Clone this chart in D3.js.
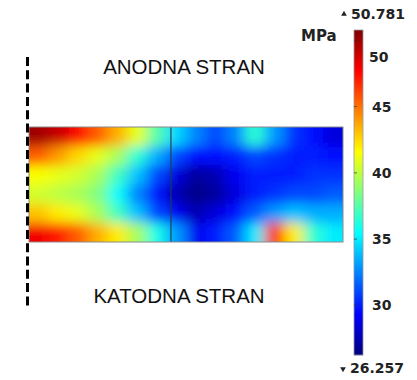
<!DOCTYPE html>
<html lang="sl">
<head>
<meta charset="UTF-8">
<title>Napetost - anodna / katodna stran</title>
<script src="https://d3js.org/d3.v7.min.js"></script>
<style>
    body { margin: 0; padding: 0; background: #fff; }
    svg { display: block; }
    .side-label { font-family: "Liberation Sans", Arial, sans-serif; font-size: 20.5px; fill: #111; text-anchor: middle; }
    .bar-text { font-family: "DejaVu Sans", Verdana, sans-serif; font-weight: bold; font-size: 14px; fill: #222; }
</style>
</head>
<body>
<svg width="417" height="380"></svg>
<script>
// stress field (MPa), rows top -> bottom, columns left -> right
const stress = [
    [50.0, 49.0, 47.5, 45.5, 43.5, 41.0, 37.5, 34.5, 32.5, 31.0, 32.5, 36.5, 33.0, 30.5, 29.5, 28.5],
    [45.5, 44.0, 42.5, 41.0, 39.5, 36.5, 33.5, 31.0, 29.5, 29.5, 30.0, 31.0, 30.5, 30.0, 30.0, 29.5],
    [41.5, 41.0, 40.5, 39.5, 37.0, 34.0, 31.0, 28.5, 27.0, 27.5, 29.0, 30.0, 30.0, 30.0, 30.5, 30.5],
    [40.5, 40.0, 39.5, 38.5, 35.5, 32.5, 29.5, 27.5, 26.5, 27.0, 28.5, 30.0, 30.5, 31.0, 31.0, 31.5],
    [43.0, 42.0, 41.0, 39.5, 37.0, 34.0, 31.0, 29.0, 27.5, 28.5, 29.5, 31.5, 33.0, 34.0, 33.5, 33.5],
    [48.0, 47.0, 45.5, 43.5, 42.0, 39.5, 36.0, 33.0, 29.0, 30.0, 31.5, 35.0, 47.0, 42.0, 36.5, 35.0]
];
const stressMin = 26.257;
const stressMax = 50.781;
const barTicks = [30, 35, 40, 45, 50];
const unit = "MPa";
const topLabel = "ANODNA STRAN";
const bottomLabel = "KATODNA STRAN";
const interfaceAt = 0.452;   // position of the inner boundary, fraction of length

const svg = d3.select("svg");

// rainbow (jet-like) colour map
const jetStops = [0, 0.125, 0.375, 0.625, 0.875, 1];
const jetColors = ["#00007f", "#0000ff", "#00ffff", "#ffff00", "#ff0000", "#7f0000"];
const color = d3.scaleLinear()
    .domain(jetStops.map(t => stressMin + t * (stressMax - stressMin)))
    .range(jetColors)
    .interpolate(d3.interpolateRgb)
    .clamp(true);

// ---- field ----
const fx0 = 29, fx1 = 343, fy0 = 127, fy1 = 242;
const nCols = stress[0].length, nRows = stress.length;
const xBand = d3.scaleBand().domain(d3.range(nCols)).range([fx0, fx1]);
const yBand = d3.scaleBand().domain(d3.range(nRows)).range([fy0, fy1]);
const pad = 25;

const defs = svg.append("defs");
defs.append("clipPath").attr("id", "field-clip")
    .append("rect")
    .attr("x", fx0).attr("y", fy0)
    .attr("width", fx1 - fx0).attr("height", fy1 - fy0);

defs.append("filter").attr("id", "smooth")
    .attr("filterUnits", "userSpaceOnUse")
    .attr("x", fx0 - 40).attr("y", fy0 - 40)
    .attr("width", fx1 - fx0 + 80).attr("height", fy1 - fy0 + 80)
    .append("feGaussianBlur")
    .attr("stdDeviation", "7 6");

const cells = [];
stress.forEach((row, r) => row.forEach((v, c) => cells.push({ r, c, v })));

svg.append("g")
    .attr("clip-path", "url(#field-clip)")
    .append("g")
    .attr("filter", "url(#smooth)")
    .selectAll("rect")
    .data(cells)
    .enter()
    .append("rect")
    .attr("x", d => xBand(d.c) - (d.c === 0 ? pad : 0))
    .attr("y", d => yBand(d.r) - (d.r === 0 ? pad : 0))
    .attr("width", d => xBand.bandwidth() + 0.6 + (d.c === 0 || d.c === nCols - 1 ? pad : 0))
    .attr("height", d => yBand.bandwidth() + 0.6 + (d.r === 0 || d.r === nRows - 1 ? pad : 0))
    .attr("fill", d => color(d.v));

const xLen = d3.scaleLinear().domain([0, 1]).range([fx0, fx1]);
svg.append("line")
    .attr("x1", xLen(interfaceAt)).attr("x2", xLen(interfaceAt))
    .attr("y1", fy0).attr("y2", fy1)
    .attr("stroke", "#1d3f4f").attr("stroke-opacity", 0.75)
    .attr("stroke-width", 1.5);

svg.append("rect")
    .attr("x", fx0).attr("y", fy0)
    .attr("width", fx1 - fx0).attr("height", fy1 - fy0)
    .attr("fill", "none")
    .attr("stroke", "#8a8a8a")
    .attr("stroke-width", 1);

// symmetry line
svg.append("line")
    .attr("x1", 27.5).attr("x2", 27.5)
    .attr("y1", 57).attr("y2", 308)
    .attr("stroke", "#000")
    .attr("stroke-width", 3)
    .attr("stroke-dasharray", "9,4.3");

svg.append("text").attr("class", "side-label")
    .attr("x", 184).attr("y", 74).text(topLabel);
svg.append("text").attr("class", "side-label")
    .attr("x", 179).attr("y", 303).text(bottomLabel);

// ---- colour bar ----
const bx = 354, bw = 9, by0 = 30, by1 = 355;
const barY = d3.scaleLinear().domain([stressMin, stressMax]).range([by1, by0]);

svg.append("g")
    .selectAll("rect")
    .data(d3.range(by0, by1))
    .enter()
    .append("rect")
    .attr("x", bx).attr("y", d => d)
    .attr("width", bw).attr("height", 1.2)
    .attr("fill", d => color(barY.invert(d + 0.5)));

svg.append("rect")
    .attr("x", bx).attr("y", by0)
    .attr("width", bw).attr("height", by1 - by0)
    .attr("fill", "none")
    .attr("stroke", "#9a9a9a")
    .attr("stroke-width", 0.8);

svg.append("g")
    .selectAll("line")
    .data(barTicks)
    .enter()
    .append("line")
    .attr("x1", bx).attr("x2", bx + 3)
    .attr("y1", d => barY(d)).attr("y2", d => barY(d))
    .attr("stroke", "#333").attr("stroke-opacity", 0.7);

const axis = svg.append("g")
    .attr("transform", `translate(${bx + bw},0)`)
    .call(d3.axisRight(barY).tickValues(barTicks).tickSize(0).tickPadding(9));
axis.select(".domain").remove();
axis.selectAll("text")
    .attr("class", "bar-text")
    .attr("fill", null);
axis.selectAll(".tick")
    .filter(d => d === 50)
    .select("text")
    .attr("transform", "translate(-3,17)");

svg.append("text").attr("class", "bar-text")
    .attr("x", 301).attr("y", 41)
    .style("font-size", "15px")
    .text(unit);

svg.append("path")
    .attr("d", d3.symbol(d3.symbolTriangle, 14)())
    .attr("transform", "translate(344,14)")
    .attr("fill", "#222");
svg.append("text").attr("class", "bar-text")
    .attr("x", 351).attr("y", 19)
    .text(d3.format(".3f")(stressMax));

svg.append("path")
    .attr("d", d3.symbol(d3.symbolTriangle, 14)())
    .attr("transform", "translate(343,369) rotate(180)")
    .attr("fill", "#222");
svg.append("text").attr("class", "bar-text")
    .attr("x", 350).attr("y", 373)
    .text(d3.format(".3f")(stressMin));
</script>
</body>
</html>
